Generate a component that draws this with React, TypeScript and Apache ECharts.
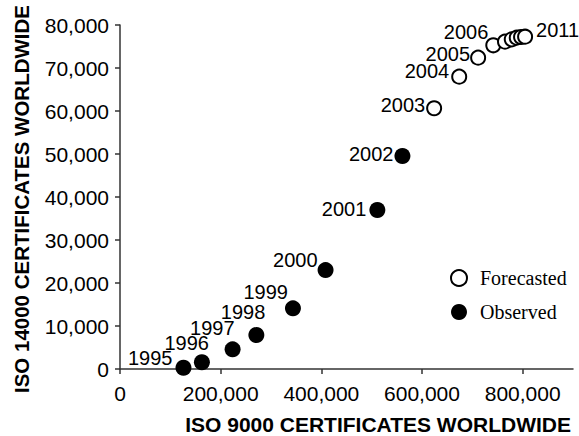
import React, { useEffect, useRef } from "react";
import * as echarts from "echarts";

// Observed certificates, 1995–2002
const observedYears = ["1995", "1996", "1997", "1998", "1999", "2000", "2001", "2002"];
const observedIso9000 = [126100, 162700, 223700, 270900, 343600, 408400, 511300, 561100];
const observedIso14000 = [300, 1560, 4580, 7900, 14100, 23000, 36980, 49530];

// Forecasted certificates, 2003–2011
const forecastYears = ["2003", "2004", "2005", "2006", "2007", "2008", "2009", "2010", "2011"];
const forecastIso9000 = [624100, 673900, 711500, 741600, 764900, 778300, 788200, 796800, 804800];
const forecastIso14000 = [60630, 67980, 72400, 75280, 76120, 76670, 77050, 77210, 77280];
// Years whose point carries a year label
const labelledYears = ["1995", "1996", "1997", "1998", "1999", "2000", "2001", "2002", "2003", "2004", "2005", "2006", "2011"];

const xTicks = [0, 200000, 400000, 600000, 800000];
const yTicks = [0, 10000, 20000, 30000, 40000, 50000, 60000, 70000, 80000];

const seriesNames = ["Forecasted", "Observed"];
const xTitle = "ISO 9000 CERTIFICATES WORLDWIDE";
const yTitle = "ISO 14000 CERTIFICATES WORLDWIDE";

// label placement around each point: [dx, dy] from the left side of the marker
const labelNudge: Record<string, [number, number]> = {
  "1995": [-3, -10],
  "1996": [15, -19],
  "1997": [10, -21],
  "1998": [17, -23],
  "1999": [3, -16],
  "2000": [0, -10],
  "2001": [-3, -1],
  "2002": [-1, -2],
  "2003": [-1, -3],
  "2004": [-2, -6],
  "2005": [0, -4],
  "2006": [3, -13],
};
const rightLabelNudge: Record<string, [number, number]> = {
  "2011": [3, -7],
};

const SANS = "'Liberation Sans', Arial, Helvetica, sans-serif";
const SERIF = "'Liberation Serif', 'Times New Roman', Times, serif";

const fmt = (v: number) => v.toLocaleString("en-US");

function buildPoints(years: string[], xs: number[], ys: number[]) {
  return years.map((year, i) => {
    const pt: any = { value: [xs[i], ys[i]], name: year };
    if (!labelledYears.includes(year)) {
      pt.label = { show: false };
    } else if (rightLabelNudge[year]) {
      pt.label = { show: true, position: "right", distance: 0, offset: rightLabelNudge[year] };
    } else {
      pt.label = { show: true, position: "left", distance: 0, offset: labelNudge[year] || [0, 0] };
    }
    return pt;
  });
}

export default function App() {
  const ref = useRef<HTMLDivElement>(null);

  useEffect(() => {
    if (!ref.current) return;
    const chart = echarts.init(ref.current, undefined, { renderer: "svg" });

    const pointLabel = {
      show: true,
      formatter: (p: any) => p.name,
      color: "#000",
      fontFamily: SANS,
      fontSize: 20,
    };

    chart.setOption({
      animation: false,
      backgroundColor: "#fff",
      grid: { left: 120, right: 6, top: 25, bottom: 67, containLabel: false },
      xAxis: {
        type: "value",
        min: 0,
        max: 900000,
        interval: 200000,
        splitLine: { show: false },
        axisLine: { show: true, onZero: false, lineStyle: { color: "#333", width: 1.5 } },
        axisTick: { show: true, length: 5, customValues: xTicks, lineStyle: { color: "#333", width: 1.5 } },
        axisLabel: {
          customValues: xTicks,
          formatter: (v: number) => fmt(v),
          color: "#000",
          fontFamily: SANS,
          fontSize: 21,
          margin: 14,
        },
      },
      yAxis: {
        type: "value",
        min: 0,
        max: 80000,
        interval: 10000,
        splitLine: { show: false },
        axisLine: { show: true, onZero: false, lineStyle: { color: "#333", width: 1.5 } },
        axisTick: { show: true, length: 5, customValues: yTicks, lineStyle: { color: "#333", width: 1.5 } },
        axisLabel: {
          customValues: yTicks,
          formatter: (v: number) => fmt(v),
          color: "#000",
          fontFamily: SANS,
          fontSize: 21,
          margin: 11,
        },
      },
      legend: {
        orient: "vertical",
        left: 445,
        top: 263,
        data: seriesNames,
        icon: "circle",
        itemWidth: 16,
        itemHeight: 16,
        itemGap: 14,
        textStyle: {
          fontFamily: SERIF,
          fontSize: 20,
          lineHeight: 20,
          color: "#000",
          padding: [0, 0, 0, 8],
        },
      },
      graphic: [
        {
          type: "text",
          right: 8,
          top: 414,
          style: {
            text: xTitle,
            fontFamily: SANS,
            fontWeight: "bold",
            fontSize: 21,
            fill: "#000",
          },
        },
        {
          type: "text",
          x: 11,
          y: 199,
          rotation: Math.PI / 2,
          style: {
            text: yTitle,
            fontFamily: SANS,
            fontWeight: "bold",
            fontSize: 20.5,
            fill: "#000",
            align: "center",
            verticalAlign: "top",
          },
        },
      ],
      series: [
        {
          name: seriesNames[0],
          type: "scatter",
          clip: false,
          symbol: "circle",
          symbolSize: 14,
          itemStyle: { color: "#fff", borderColor: "#000", borderWidth: 2, opacity: 1 },
          label: pointLabel,
          data: buildPoints(forecastYears, forecastIso9000, forecastIso14000),
          z: 3,
        },
        {
          name: seriesNames[1],
          type: "scatter",
          clip: false,
          symbol: "circle",
          symbolSize: 16,
          itemStyle: { color: "#000", borderWidth: 0, opacity: 1 },
          label: pointLabel,
          data: buildPoints(observedYears, observedIso9000, observedIso14000),
          z: 3,
        },
      ],
    });

    return () => chart.dispose();
  }, []);

  return (
    <div
      ref={ref}
      style={{ position: "fixed", left: 0, top: 0, width: 579, height: 436, background: "#fff" }}
    />
  );
}
